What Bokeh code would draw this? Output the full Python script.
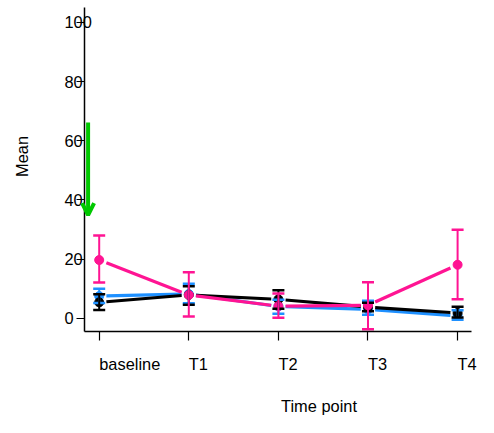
from bokeh.plotting import figure
from bokeh.models import (ColumnDataSource, Whisker, TeeHead, Arrow, OpenHead,
                          FixedTicker, Label, Range1d)
from bokeh.core.properties import value
from bokeh.embed import file_html
from bokeh.resources import INLINE

# ---- data ----
timepoints = ["baseline", "T1", "T2", "T3", "T4"]

black_mean = [5.4, 7.9, 6.4, 3.8, 1.8]
black_lo = [2.8, 4.6, 3.2, 2.4, 0.3]
black_hi = [8.1, 10.8, 9.5, 5.3, 3.9]

blue_mean = [7.5, 8.2, 4.0, 3.0, 0.8]
blue_lo = [5.2, 5.1, 1.5, 1.2, -0.5]
blue_hi = [10.0, 11.7, 6.3, 5.9, 2.7]

pink_mean = [19.7, 7.9, 4.1, 4.4, 18.1]
pink_lo = [12.1, 0.6, 0.2, -3.7, 6.4]
pink_hi = [28.0, 15.6, 8.4, 12.2, 29.9]

y_ticks = [0, 20, 40, 60, 80, 100]

# annotation arrow (data coords)
arrow_x = -0.124
arrow_y_start = 66.17
arrow_y_end = 34.84

FONT = "Liberation Sans"
FS = "16.4px"

W, H = 478, 417
p = figure(width=W, height=H, output_backend="svg", toolbar_location=None,
           x_range=Range1d(-1.1016, 4.2333),
           y_range=Range1d(-33.52, 107.4),
           min_border=0)
p.outline_line_color = None
p.xgrid.visible = False
p.ygrid.visible = False
p.background_fill_color = "white"
p.border_fill_color = "white"

xs = list(range(len(timepoints)))

# axes drawn inside the frame at fixed locations
p.xaxis.ticker = FixedTicker(ticks=xs)
p.yaxis.ticker = FixedTicker(ticks=y_ticks)
p.xaxis.fixed_location = -4.56
p.xaxis.bounds = (-0.1618, 4.16)
p.yaxis.fixed_location = -0.1618
p.yaxis.bounds = (-4.56, 105.1)
for ax in (p.xaxis[0], p.yaxis[0]):
    ax.minor_tick_line_color = None
    ax.major_tick_in = 0
    ax.axis_line_color = "black"
    ax.axis_line_width = 1.5
    ax.major_tick_line_color = "black"
    ax.major_tick_line_width = 1.2
    ax.major_label_text_font_size = "0px"
    ax.major_label_text_color = None
p.xaxis.major_tick_out = 9
p.yaxis.major_tick_out = 8

# tick labels (left aligned, as in the reference)
p.text(x=xs, y=[-15.5] * len(xs), text=timepoints, text_align="left",
       text_baseline="alphabetic", text_font=value(FONT),
       text_font_size=value(FS), text_color="black")
p.text(x=[-0.388] * len(y_ticks), y=y_ticks, text=[str(t) for t in y_ticks],
       text_align="left", text_baseline="middle", text_font=value(FONT),
       text_font_size=value(FS), text_color="black")

gap = 0.08


def series(mean, lo, hi, color):
    x0, y0, x1, y1 = [], [], [], []
    for i in range(len(mean) - 1):
        dy = mean[i + 1] - mean[i]
        x0.append(xs[i] + gap)
        x1.append(xs[i + 1] - gap)
        y0.append(mean[i] + dy * gap)
        y1.append(mean[i] + dy * (1 - gap))
    p.segment(x0=x0, y0=y0, x1=x1, y1=y1, line_color=color, line_width=3.2)
    src = ColumnDataSource(dict(x=xs, m=mean, lo=lo, hi=hi))
    w = Whisker(base="x", lower="lo", upper="hi", source=src,
                line_color=color, line_width=2, level="glyph",
                upper_head=TeeHead(size=12, line_color=color, line_width=2.5),
                lower_head=TeeHead(size=12, line_color=color, line_width=2.5))
    p.add_layout(w)
    p.scatter("x", "m", source=src, size=9, color=color)


series(blue_mean, blue_lo, blue_hi, "#1e90ff")
series(black_mean, black_lo, black_hi, "black")
series(pink_mean, pink_lo, pink_hi, "#ff1493")

green = "#00c800"
p.add_layout(Arrow(end=OpenHead(size=12, line_color=green, line_width=4),
                   x_start=arrow_x, y_start=arrow_y_start,
                   x_end=arrow_x, y_end=arrow_y_end,
                   line_color=green, line_width=4))

# axis titles
p.add_layout(Label(x=-0.864, y=54.68, text="Mean", angle=1.5708,
                   text_align="center", text_baseline="middle",
                   text_font=FONT, text_font_size=FS, text_color="black"))
p.add_layout(Label(x=2.453, y=-29.6, text="Time point",
                   text_align="center", text_baseline="alphabetic",
                   text_font=FONT, text_font_size=FS, text_color="black"))

open("out.html", "w").write(file_html(p, INLINE))
